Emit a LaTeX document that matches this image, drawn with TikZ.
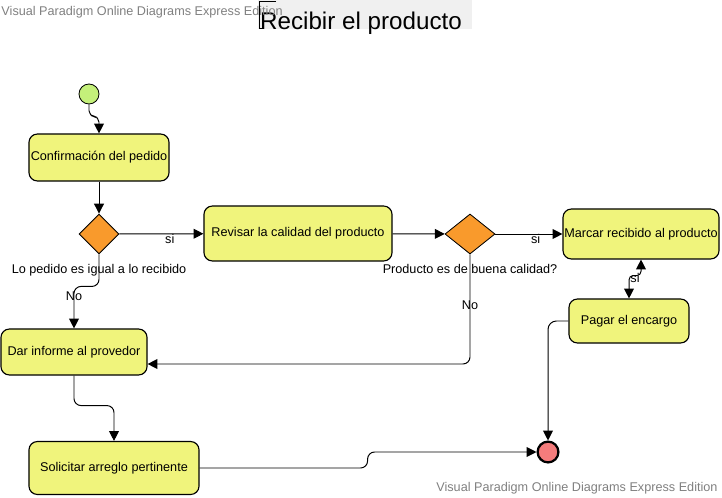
\documentclass[tikz,border=0pt]{standalone}
\usepackage{fontspec}
\setmainfont{Liberation Sans}
\usepackage{xcolor}
\usepackage{tikz}
\usetikzlibrary{arrows.meta, positioning, shapes.geometric}

\definecolor{amarillo}{RGB}{240,244,124}
\definecolor{naranja}{RGB}{249,154,44}
\definecolor{verde}{RGB}{196,240,122}
\definecolor{rojo}{RGB}{244,124,124}
\definecolor{marca}{RGB}{128,128,128}

\begin{document}
\begin{tikzpicture}[x=0.025cm,y=-0.025cm,>={Triangle[length=7pt,width=7pt]},line width=0.7pt,
    accion/.style={draw, rounded corners=6pt, fill=amarillo, line width=0.8pt, inner sep=0pt, font=\fontsize{9}{10}\selectfont},
    decision/.style={draw, diamond, fill=naranja, inner sep=0pt, line width=0.6pt},
    etiqueta/.style={inner sep=1pt, font=\fontsize{9}{10}\selectfont},
    marcaagua/.style={text=marca, inner sep=0pt, font=\fontsize{9}{10}\selectfont}]
            \useasboundingbox (0,0) rectangle (722,498);

            % Título y marcas de agua
            \fill[black!6] (258,0) rectangle (472,29);
            \draw[line width=0.6pt] (276,1) -- (259,1) -- (259,28) -- (264,28);
            \node[inner sep=0pt, font=\fontsize{17.2}{20}\selectfont] (titulo) at (361,23) {Recibir el producto};
            \node[marcaagua, anchor=west] (marca1) at (1,12) {Visual Paradigm Online Diagrams Express Edition};
            \node[marcaagua, anchor=east] (marca2) at (718,488) {Visual Paradigm Online Diagrams Express Edition};

            % Nodos inicial y final
            \node[draw, circle, fill=verde, minimum size=0.5cm, inner sep=0pt, line width=0.6pt] (inicio) at (89,94) {};
            \node[draw, circle, fill=rojo, minimum size=0.52cm, inner sep=0pt, line width=1.6pt] (fin) at (548,452) {};

            % Acciones
            \node[accion, minimum width=3.5cm, minimum height=1.175cm] (confirmacion) at (99,157.5) {Confirmación del pedido};
            \node[accion, minimum width=4.7cm, minimum height=1.375cm] (revisar) at (298,233.5) {Revisar la calidad del producto};
            \node[accion, minimum width=3.9cm, minimum height=1.25cm] (marcar) at (641,234) {Marcar recibido al producto};
            \node[accion, minimum width=3cm, minimum height=1.1cm] (pagar) at (629,321) {Pagar el encargo};
            \node[accion, minimum width=3.65cm, minimum height=1.15cm] (informe) at (74,352) {Dar informe al provedor};
            \node[accion, minimum width=4.25cm, minimum height=1.325cm] (solicitar) at (114,468) {Solicitar arreglo pertinente};

            % Decisiones
            \node[decision, minimum width=1cm, minimum height=1cm] (igual) at (99,234) {};
            \node[decision, minimum width=1.25cm, minimum height=1cm] (calidad) at (470,234) {};
            \node[etiqueta, below=0.2cm of igual] (pregunta1) {Lo pedido es igual a lo recibido};
            \node[etiqueta, below=0.2cm of calidad] (pregunta2) {Producto es de buena calidad?};

            % Flujos
            \draw[->, rounded corners=4pt] (inicio.south) -- ++(0,12) -| (confirmacion.north);
            \draw[->] (confirmacion) -- (igual);
            \draw[->] (igual) -- node[etiqueta, pos=0.6, below=-1pt] {si} (revisar);
            \draw[->] (revisar) -- (calidad);
            \draw[->] (calidad) -- node[etiqueta, pos=0.6, below=-1pt] {si} (marcar);
            \draw[<->, rounded corners=3pt] (marcar.south) -- ++(0,16) -| node[etiqueta, pos=0.25, below=-3pt] {si} (pagar.north);
            \draw[->, rounded corners=5pt] (igual.south) -- ++(0,32) -| node[etiqueta, pos=0.62] {No} (informe.north);
            \draw[->, rounded corners=5pt] (calidad.south) |- node[etiqueta, pos=0.23] {No} ([yshift=-0.3cm]informe.east);
            \draw[->, rounded corners=5pt] (informe.south) -- ++(0,30) -| (solicitar.north);
            \draw[->, rounded corners=5pt] (solicitar.east) -- ++(168,0) |- (fin.west);
            \draw[->, rounded corners=6pt] (pagar.west) -| (fin.north);
        \end{tikzpicture}
\end{document}
